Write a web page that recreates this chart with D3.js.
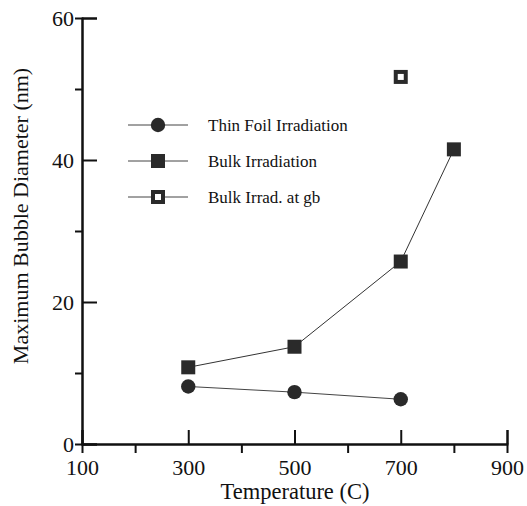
<!DOCTYPE html>
<html>
<head>
<meta charset="utf-8">
<script src="https://cdn.jsdelivr.net/npm/d3@7"></script>
<style>
  body { margin: 0; background: #fff; }
  svg { font-family: 'Liberation Serif', 'Times New Roman', serif; }
</style>
</head>
<body>
<svg width="527" height="506"></svg>
<script>
// values
let thinTemp = [300, 500, 700]
let thinDiam = [8.1, 7.3, 6.3]
let bulkTemp = [300, 500, 700, 800]
let bulkDiam = [10.8, 13.7, 25.7, 41.5]
let gbTemp = [700]
let gbDiam = [51.7]
let xMajor = [100, 300, 500, 700, 900]
let xMinor = [200, 400, 600, 800]
let yMajor = [0, 20, 40, 60]
let yMinor = [10, 30, 50]
let legendLabels = ['Thin Foil Irradiation', 'Bulk Irradiation', 'Bulk Irrad. at gb']

let svg = d3.select('svg')

let x = d3.scaleLinear().domain([100, 900]).range([82, 507])
let y = d3.scaleLinear().domain([0, 60]).range([444, 18])

// axes: major ticks inward, minor ticks outward
let xAxisMajor = d3.axisBottom(x).tickValues(xMajor).tickSize(-14).tickPadding(15)
  .tickFormat(d3.format('d'))
let xAxisMinor = d3.axisBottom(x).tickValues(xMinor).tickSize(9).tickFormat('')
let yAxisMajor = d3.axisLeft(y).tickValues(yMajor).tickSize(-15).tickPadding(8)
let yAxisMinor = d3.axisLeft(y).tickValues(yMinor).tickSize(7).tickFormat('')

function styleAxis (g) {
  g.select('.domain').attr('stroke', '#111').attr('stroke-width', 2)
  g.selectAll('.tick line').attr('stroke', '#111').attr('stroke-width', 2)
  g.selectAll('.tick text').attr('fill', '#111').style('font-size', '22px')
    .style('font-family', "'Liberation Serif', serif")
}

svg.append('g').attr('transform', 'translate(0,' + y(0) + ')').call(xAxisMinor).call(styleAxis)
svg.append('g').attr('transform', 'translate(0,' + y(0) + ')').call(xAxisMajor).call(styleAxis)
svg.append('g').attr('transform', 'translate(' + x(100) + ',0)').call(yAxisMinor).call(styleAxis)
svg.append('g').attr('transform', 'translate(' + x(100) + ',0)').call(yAxisMajor).call(styleAxis)

svg.append('text')
  .attr('x', 295).attr('y', 499)
  .attr('text-anchor', 'middle')
  .style('font-size', '22.5px').attr('fill', '#111')
  .text('Temperature (C)')

svg.append('text')
  .attr('transform', 'translate(28,216) rotate(-90)')
  .attr('text-anchor', 'middle')
  .style('font-size', '22px').attr('fill', '#111')
  .text('Maximum Bubble Diameter (nm)')

let line = d3.line().x(function (d) { return x(d[0]) }).y(function (d) { return y(d[1]) })

let thin = d3.zip(thinTemp, thinDiam)
let bulk = d3.zip(bulkTemp, bulkDiam)
let gb = d3.zip(gbTemp, gbDiam)

svg.append('path').datum(thin).attr('d', line)
  .attr('fill', 'none').attr('stroke', '#444').attr('stroke-width', 1)
svg.append('path').datum(bulk).attr('d', line)
  .attr('fill', 'none').attr('stroke', '#333').attr('stroke-width', 1)

let sq = 14

svg.append('g').selectAll('circle').data(thin).enter().append('circle')
  .attr('cx', function (d) { return x(d[0]) })
  .attr('cy', function (d) { return y(d[1]) })
  .attr('r', 7.2)
  .attr('fill', '#2a2a2a')

svg.append('g').selectAll('rect').data(bulk).enter().append('rect')
  .attr('x', function (d) { return x(d[0]) - sq / 2 })
  .attr('y', function (d) { return y(d[1]) - sq / 2 })
  .attr('width', sq).attr('height', sq)
  .attr('fill', '#2a2a2a')

svg.append('g').selectAll('rect').data(gb).enter().append('rect')
  .attr('x', function (d) { return x(d[0]) - sq / 2 + 2 })
  .attr('y', function (d) { return y(d[1]) - sq / 2 + 2 })
  .attr('width', sq - 4).attr('height', sq - 4)
  .attr('fill', '#fff').attr('stroke', '#2a2a2a').attr('stroke-width', 4)

// legend
let legend = svg.append('g').selectAll('g').data(legendLabels).enter().append('g')
  .attr('transform', function (d, i) { return 'translate(0,' + (125 + i * 36) + ')' })

legend.append('line')
  .attr('x1', 128).attr('x2', 188).attr('y1', 0).attr('y2', 0)
  .attr('stroke', '#444').attr('stroke-width', 1)

legend.each(function (d, i) {
  let g = d3.select(this)
  if (i === 0) {
    g.append('circle').attr('cx', 158).attr('cy', 0).attr('r', 7.2).attr('fill', '#2a2a2a')
  } else if (i === 1) {
    g.append('rect').attr('x', 158 - sq / 2).attr('y', -sq / 2)
      .attr('width', sq).attr('height', sq).attr('fill', '#2a2a2a')
  } else {
    g.append('rect').attr('x', 158 - sq / 2 + 2).attr('y', -sq / 2 + 2)
      .attr('width', sq - 4).attr('height', sq - 4)
      .attr('fill', '#fff').attr('stroke', '#2a2a2a').attr('stroke-width', 4)
  }
})

legend.append('text')
  .attr('x', 208).attr('y', 0).attr('dy', '0.35em')
  .style('font-size', '17px').attr('fill', '#111')
  .text(function (d) { return d })
</script>
</body>
</html>
